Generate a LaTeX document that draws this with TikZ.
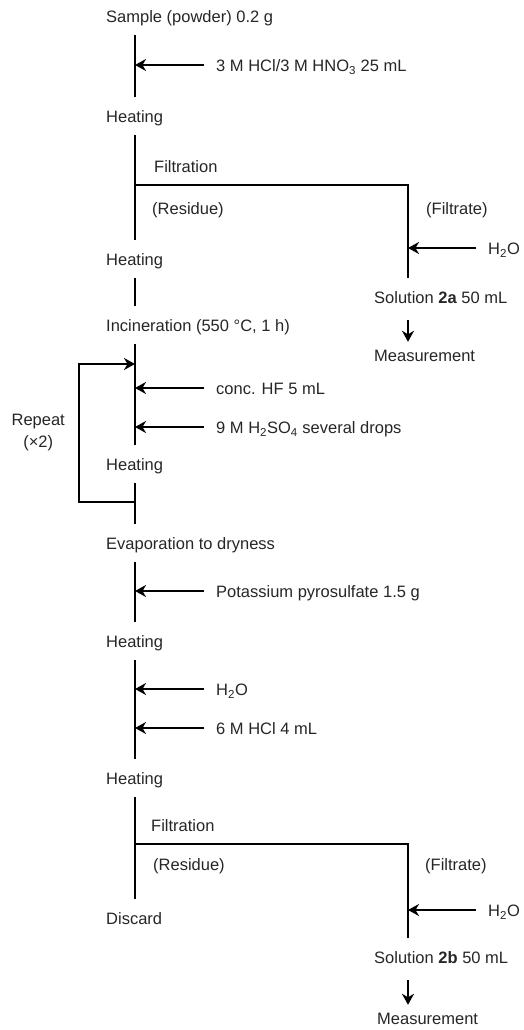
\documentclass[tikz,border=0pt]{standalone}
\usepackage{fontspec}
\setmainfont{Liberation Sans}
\usetikzlibrary{positioning,arrows.meta}

\tikzset{
	stage/.style={anchor=west, inner xsep=0pt, inner ysep=10.5pt, text height=15pt, text depth=2pt},
	reagent/.style={anchor=west, inner xsep=12pt, inner ysep=0pt, text height=15pt, text depth=2pt},
	note/.style={anchor=west, inner sep=0pt, text height=15pt, text depth=2pt},
	flow/.style={line width=1.7pt},
	feed/.style={flow, -{Stealth[length=11pt,width=12pt,inset=3.5pt]}},
}

\begin{document}
\begin{tikzpicture}[x=1pt, y=-1pt, font=\fontsize{16.5}{19}\selectfont, text=black!85]
		\useasboundingbox (0,0) rectangle (523,1030);
		\coordinate (spine) at (135,0);
		\coordinate (fork1) at (408,185);
		\coordinate (fork2) at (408,844);
		\coordinate (rep-in) at (135,364);
		\coordinate (rep-out) at (135,502);
		
		\node[stage] 										(sample) 	at (106,16) {Sample (powder) 0.2 g};
		\node[stage, below=100pt of sample.west, anchor=west] 	(heat1) 	{Heating};
		\node[stage, below=143pt of heat1.west, anchor=west] 	(heat2) 	{Heating};
		\node[stage, below=66pt of heat2.west, anchor=west] 	(incin) 	{Incineration (550 °C, 1 h)};
		\node[stage, below=139pt of incin.west, anchor=west] 	(heat3) 	{Heating};
		\node[stage, below=79pt of heat3.west, anchor=west] 	(evap) 		{Evaporation to dryness};
		\node[stage, below=98pt of evap.west, anchor=west] 		(heat4) 	{Heating};
		\node[stage, below=137pt of heat4.west, anchor=west] 	(heat5) 	{Heating};
		\node[stage, below=140pt of heat5.west, anchor=west] 	(discard) 	{Discard};
		
		\node[stage] 										(sol2a) 	at (374,297) {Solution \textbf{2a} 50 mL};
		\node[stage, below=58pt of sol2a.west, anchor=west] 	(meas1) 	{Measurement};
		\node[stage] 										(sol2b) 	at (374,957) {Solution \textbf{2b} 50 mL};
		\node[stage, below=61pt of sol2b.west, anchor=west, xshift=3pt] (meas2) {Measurement};
		
		\node[reagent] (hcl) 	at (204,65) 	{3 M HCl/3 M HNO\textsubscript{3} 25 mL};
		\node[reagent] (h2oA) 	at (476,248) 	{H\textsubscript{2}O};
		\node[reagent] (hf) 	at (204,388) 	{conc. HF 5 mL};
		\node[reagent] (hso) 	at (204,427) 	{9 M H\textsubscript{2}SO\textsubscript{4} several drops};
		\node[reagent] (pyro) 	at (204,591) 	{Potassium pyrosulfate 1.5 g};
		\node[reagent] (h2oB) 	at (204,689) 	{H\textsubscript{2}O};
		\node[reagent] (hcl6) 	at (204,728) 	{6 M HCl 4 mL};
		\node[reagent] (h2oC) 	at (476,910) 	{H\textsubscript{2}O};
		
		\node[note] (filt1) 	at (154,166) 	{Filtration};
		\node[note] (res1) 		at (152,208) 	{(Residue)};
		\node[note] (filtr1) 	at (426,208) 	{(Filtrate)};
		\node[note] (filt2) 	at (151,825) 	{Filtration};
		\node[note] (res2) 		at (153,864) 	{(Residue)};
		\node[note] (filtr2) 	at (425,864) 	{(Filtrate)};
		\node[align=center, anchor=east, inner xsep=14pt, inner ysep=0pt] (repeat) at (79,433) {Repeat\\[3pt](×2)};
		
		\draw[flow] (sample.south -| spine) -- (heat1.north -| spine);
		\draw[flow] (heat1.south -| spine) -- (heat2.north -| spine);
		\draw[flow] (heat2.south -| spine) -- (incin.north -| spine);
		\draw[flow] (incin.south -| spine) -- (heat3.north -| spine);
		\draw[flow] (heat3.south -| spine) -- (evap.north -| spine);
		\draw[flow] (evap.south -| spine) -- (heat4.north -| spine);
		\draw[flow] (heat4.south -| spine) -- (heat5.north -| spine);
		\draw[flow] (heat5.south -| spine) -- (discard.north -| spine);
		
		\draw[flow] (spine |- fork1) -- (fork1) -- (sol2a.north -| fork1);
		\draw[flow] (spine |- fork2) -- (fork2) -- (sol2b.north -| fork2);
		\draw[feed, shorten <=4pt, shorten >=-6pt] (sol2a.south -| fork1) -- (meas1.north -| fork1);
		\draw[feed, shorten <=4pt, shorten >=-6pt] (sol2b.south -| fork2) -- (meas2.north -| fork2);
		
		\draw[feed] (hcl.west) -- (hcl.west -| spine);
		\draw[feed] (hf.west) -- (hf.west -| spine);
		\draw[feed] (hso.west) -- (hso.west -| spine);
		\draw[feed] (pyro.west) -- (pyro.west -| spine);
		\draw[feed] (h2oB.west) -- (h2oB.west -| spine);
		\draw[feed] (hcl6.west) -- (hcl6.west -| spine);
		\draw[feed] (h2oA.west) -- (h2oA.west -| fork1);
		\draw[feed] (h2oC.west) -- (h2oC.west -| fork2);
		
		\draw[feed] (rep-out) -| (repeat.east) |- (rep-in);
		\end{tikzpicture}
\end{document}
